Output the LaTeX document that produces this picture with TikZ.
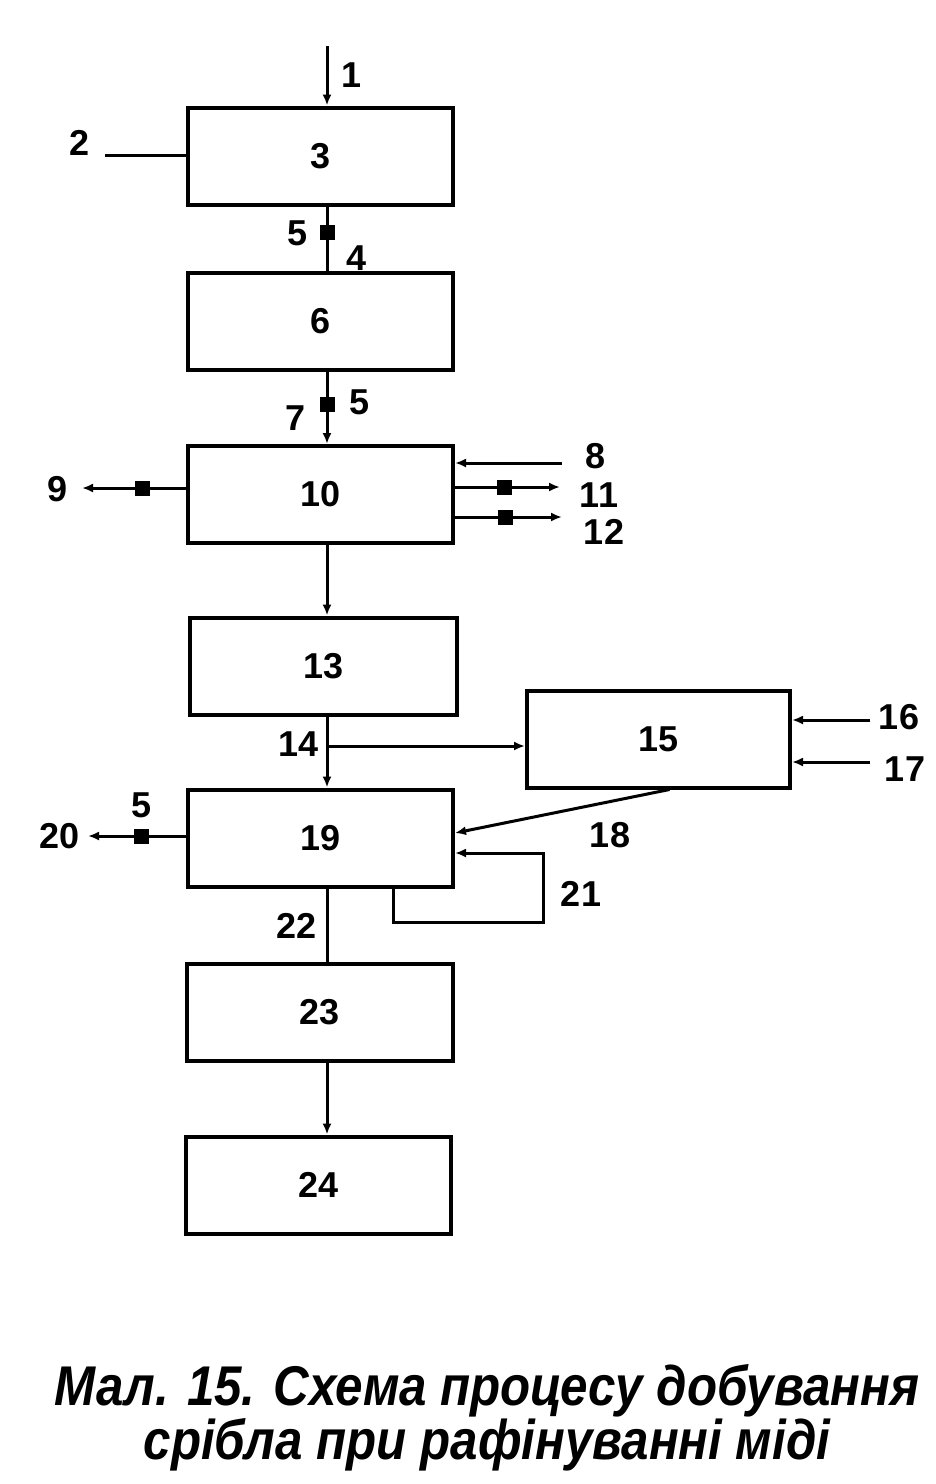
\documentclass[tikz,border=0pt]{standalone}
\usepackage{fontspec}
\setmainfont{Liberation Sans}
\newfontfamily\capfont[FakeStretch=0.88]{Liberation Sans}
\usetikzlibrary{arrows.meta}

\begin{document}
\begin{tikzpicture}
  [x=1pt, y=-1pt,
   box/.style={draw=black, line width=4pt, minimum width=265pt, minimum height=97pt, inner sep=0pt, font=\bfseries\fontsize{36}{40}\selectfont},
   flow/.style={line width=3pt, draw=black, -{Latex[length=11pt,width=9pt]}},
   line/.style={line width=3pt, draw=black},
   sqr/.style={fill=black, inner sep=0pt, minimum size=15pt},
   num/.style={font=\bfseries\fontsize{36}{40}\selectfont, inner sep=0pt}]

  \useasboundingbox (0,0) rectangle (936,1484);

  % Blocks
  \node[box] (b3)  at (320.5,156) {3};
  \node[box] (b6)  at (320.5,321) {6};
  \node[box] (b10) at (320.5,494.5) {10};
  \node[box, minimum width=267pt] (b13) at (323.5,666) {13};
  \node[box, minimum width=263pt] (b15) at (658.5,739) {15};
  \node[box] (b19) at (320.5,838) {19};
  \node[box, minimum width=266pt] (b23) at (320,1012) {23};
  \node[box] (b24) at (318.5,1185) {24};

  % Free ends
  \coordinate (o1)  at (327,46);
  \coordinate (o2)  at (105,155);
  \coordinate (o8)  at (562,463);
  \coordinate (o9)  at (82,488);
  \coordinate (o11) at (560,487);
  \coordinate (o12) at (562,517);
  \coordinate (o16) at (870,720);
  \coordinate (o17) at (870,762);
  \coordinate (o20) at (88,836);
  \coordinate (j14) at (327,746);
  \coordinate (c21a) at (393,922);
  \coordinate (c21b) at (543,853);

  % Main line
  \draw[flow] (o1) -- (o1 |- b3.north);
  \draw[line] (o2) -- (o2 -| b3.west);
  \draw[line] (o1 |- b3.south) -- node[sqr, pos=.41] {} (o1 |- b6.north);
  \draw[flow] (o1 |- b6.south) -- node[sqr, pos=.45] {} (o1 |- b10.north);
  \draw[flow] (o1 |- b10.south) -- (o1 |- b13.north);
  \draw[flow] (o1 |- b13.south) -- (o1 |- b19.north);
  \draw[line] (o1 |- b19.south) -- (o1 |- b23.north);
  \draw[flow] (o1 |- b23.south) -- (o1 |- b24.north);

  % Side streams of 10
  \draw[flow] (o9 -| b10.west) -- node[sqr, pos=.42] {} (o9);
  \draw[flow] (o8) -- (o8 -| b10.east);
  \foreach \o in {o11, o12}
    \draw[flow] (\o -| b10.east) -- node[sqr, pos=.47] {} (\o);

  % Branch to 15 and back to 19
  \draw[flow] (j14) -- (j14 -| b15.west);
  \foreach \o in {o16, o17}
    \draw[flow] (\o) -- (\o -| b15.east);
  \draw[flow] ([xshift=11pt]b15.south) -- ([yshift=5pt]b19.east);
  \draw[flow] (c21a |- b19.south) -- (c21a) -| (c21b) -- (c21b -| b19.east);
  \draw[flow] (o20 -| b19.west) -- node[sqr, pos=.45] {} (o20);

  % Labels
  \node[num] (l1)  at (352,75)  {1};
  \node[num] (l2)  at (80,143)  {2};
  \node[num] (l5a) at (298,233) {5};
  \node[num] (l4)  at (357,258) {4};
  \node[num] (l7)  at (296,418) {7};
  \node[num] (l5b) at (360,402) {5};
  \node[num] (l9)  at (58,489)  {9};
  \node[num] (l8)  at (596,456) {8};
  \node[num] (l11) at (599,495) {11};
  \node[num] (l12) at (604,532) {12};
  \node[num] (l14) at (299,744) {14};
  \node[num] (l16) at (899,717) {16};
  \node[num] (l17) at (905,769) {17};
  \node[num] (l18) at (610,835) {18};
  \node[num] (l5c) at (142,805) {5};
  \node[num] (l20) at (60,836)  {20};
  \node[num] (l21) at (581,894) {21};
  \node[num] (l22) at (297,926) {22};

  % Caption
  \node[align=center, inner sep=0pt, font=\capfont\bfseries\itshape\fontsize{56}{54}\selectfont] (cap) at (487,1418)
    {Мал. 15. Схема процесу добування\\срібла при рафінуванні міді};
\end{tikzpicture}
\end{document}
